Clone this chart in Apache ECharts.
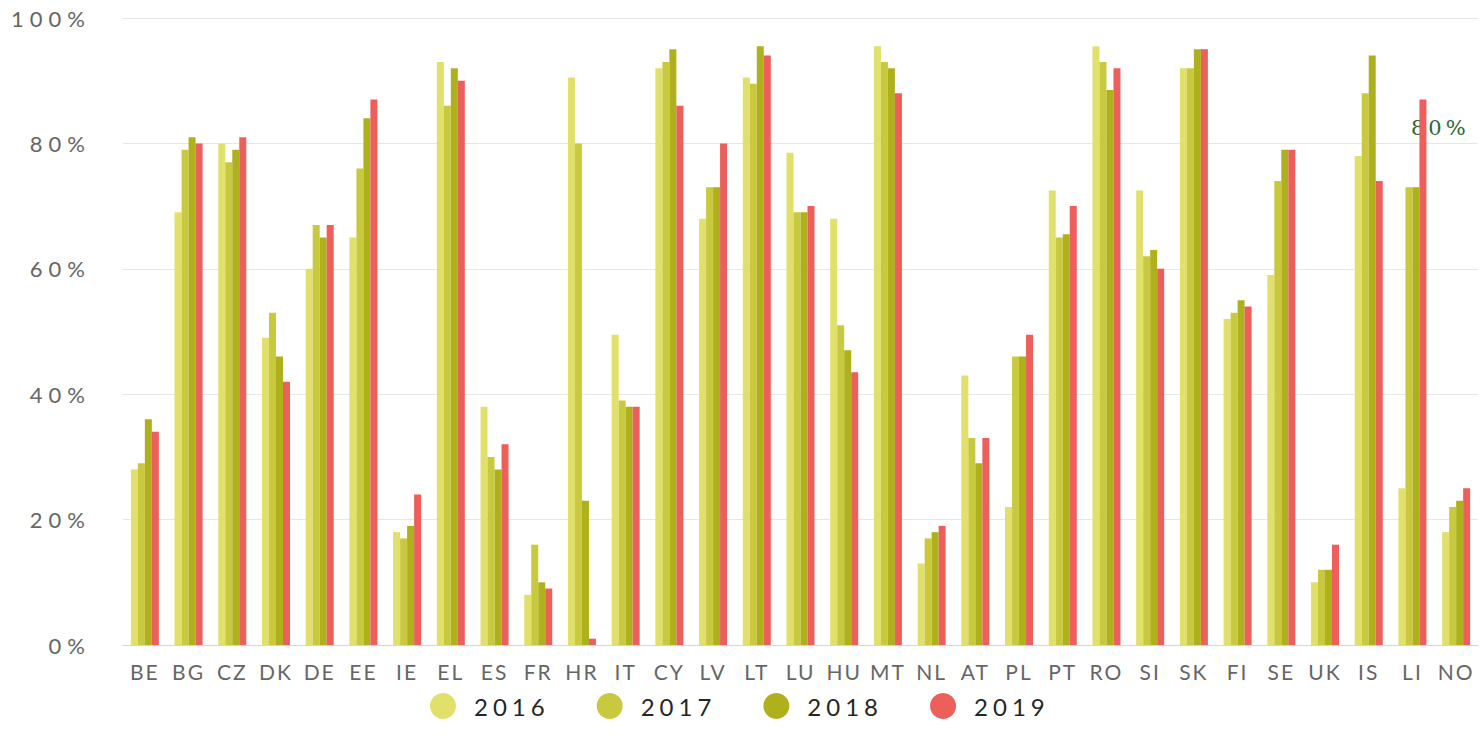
<!DOCTYPE html>
<html>
<head>
<meta charset="utf-8">
<script src="https://cdn.jsdelivr.net/npm/echarts@6/dist/echarts.min.js"></script>
<style>
html,body{margin:0;padding:0;background:#fff;}
#chart{width:1481px;height:748px;}
</style>
</head>
<body>
<div id="chart"></div>
<script>
const categories = ['BE','BG','CZ','DK','DE','EE','IE','EL','ES','FR','HR','IT','CY','LV','LT','LU','HU','MT','NL','AT','PL','PT','RO','SI','SK','FI','SE','UK','IS','LI','NO'];
const y2016 = [28,69,80,49,60,65,18,93,38,8,90.5,49.5,92,68,90.5,78.5,68,95.5,13,43,22,72.5,95.5,72.5,92,52,59,10,78,25,18];
const y2017 = [29,79,77,53,67,76,17,86,30,16,80,39,93,73,89.5,69,51,93,17,33,46,65,93,62,92,53,74,12,88,73,22];
const y2018 = [36,81,79,46,65,84,19,92,28,10,23,38,95,73,95.5,69,47,92,18,29,46,65.5,88.5,63,95,55,79,12,94,73,23];
const y2019 = [34,80,81,42,67,87,24,90,32,9,1,38,86,80,94,70,43.5,88,19,33,49.5,70,92,60,95,54,79,16,74,87,25];
const seriesNames = ['2016','2017','2018','2019'];
const colors = ['#e0e06a','#c8c93e','#afb11c','#ec5f5b'];
const annotationText = '80%';

const chart = echarts.init(document.getElementById('chart'), null, {renderer: 'svg'});
const font = 'Lato, "Open Sans", sans-serif';
const allData = [y2016, y2017, y2018, y2019];
chart.setOption({
  animation: false,
  color: colors,
  grid: {left: 123, right: 3, top: 18, bottom: 103, containLabel: false},
  legend: {
    left: 425,
    top: 688,
    icon: 'circle',
    itemWidth: 26,
    itemHeight: 26,
    itemGap: 67,
    textStyle: {fontFamily: font, fontSize: 24, color: '#262626', padding: [0,0,0,13]}
  },
  xAxis: {
    type: 'category',
    data: categories,
    axisTick: {show: false},
    axisLine: {lineStyle: {color: '#ccd6eb'}},
    axisLabel: {fontFamily: font, fontSize: 21, color: '#666', margin: 16, interval: 0}
  },
  yAxis: {
    type: 'value',
    min: 0, max: 100, interval: 20,
    axisLabel: {fontFamily: font, fontSize: 22, color: '#666', margin: 32, formatter: v => v + '%'},
    splitLine: {lineStyle: {color: '#e6e6e6'}},
    axisLine: {show: false},
    axisTick: {show: false}
  },
  series: seriesNames.map((n, i) => ({
    name: n,
    type: 'bar',
    data: allData[i],
    barWidth: 7,
    barGap: '0%',
    z: 5,
    itemStyle: {color: colors[i]}
  })),
  graphic: [{
    type: 'text',
    left: 1411,
    top: 117,
    z: 0,
    style: {text: annotationText, fontFamily: '"DejaVu Serif", serif', fontSize: 21, fill: '#2b6a30'}
  }]
});

function spacing() {
  document.querySelectorAll('#chart svg text').forEach(t => {
    const s = t.textContent;
    if (s === annotationText && (t.getAttribute('fill') || '').toLowerCase().indexOf('2b6a30') >= 0) {
      t.style.letterSpacing = '4px';
    } else if (/%$/.test(s)) {
      t.style.letterSpacing = '6px';
    } else if (seriesNames.indexOf(s) >= 0) {
      t.style.letterSpacing = '5px';
    } else if (categories.indexOf(s) >= 0) {
      t.style.letterSpacing = '2px';
    }
  });
}
spacing();
chart.on('finished', spacing);
setTimeout(spacing, 50);
setTimeout(spacing, 300);
</script>
</body>
</html>
